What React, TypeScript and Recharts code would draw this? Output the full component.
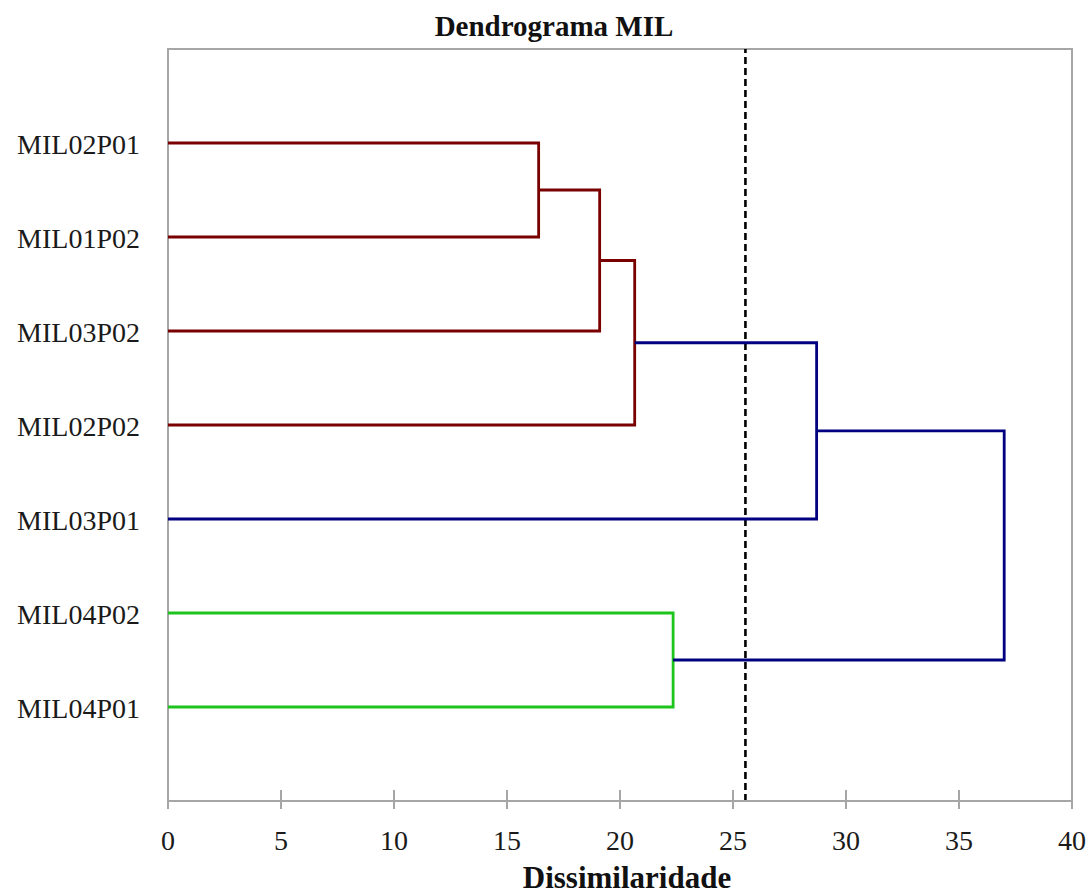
import React from 'react';
import { ComposedChart, XAxis, YAxis, Scatter, ReferenceLine, ReferenceArea } from 'recharts';

const leaves = ['MIL02P01', 'MIL01P02', 'MIL03P02', 'MIL02P02', 'MIL03P01', 'MIL04P02', 'MIL04P01'];
const mergeA = ['L0', 'M0', 'M1', 'M2', 'L5', 'M3'];
const mergeB = ['L1', 'L2', 'L3', 'L4', 'L6', 'M4'];
const mergeHeights = [16.4, 19.1, 20.65, 28.7, 22.35, 37.0];
const mergeColors = ['#7a0000', '#7a0000', '#7a0000', '#000080', '#1cc41c', '#000080'];
const cutHeight = 25.55;
const xTicks = [0, 5, 10, 15, 20, 25, 30, 35, 40];
const yTicks = [1, 2, 3, 4, 5, 6, 7];

const FONT = '"Liberation Serif", "DejaVu Serif", serif';
const GRAY = '#a6a6a6';

function nodePos(id: string): { x: number; y: number } {
  const k = parseInt(id.slice(1), 10);
  if (id[0] === 'L') return { x: 0, y: k + 1 };
  const a = nodePos(mergeA[k]);
  const b = nodePos(mergeB[k]);
  return { x: mergeHeights[k], y: (a.y + b.y) / 2 };
}

const segments = mergeHeights.map((h, j) => {
  const a = nodePos(mergeA[j]);
  const b = nodePos(mergeB[j]);
  return {
    color: mergeColors[j],
    points: [
      { x: a.x, y: a.y },
      { x: h, y: a.y },
      { x: h, y: b.y },
      { x: b.x, y: b.y },
    ],
  };
});
const order = (c: string) => (c === '#000080' ? 2 : 1);
const sortedSegments = [...segments].sort((p, q) => order(p.color) - order(q.color));

const XTick = (props: any) => {
  const { x, y, payload } = props;
  return (
    <g>
      <line x1={x} x2={x} y1={y - 11} y2={y + 8} stroke={GRAY} strokeWidth={2} />
      <text x={x} y={y + 49} textAnchor="middle" fontFamily={FONT} fontSize={28} fill="#1a1a1a">
        {payload.value}
      </text>
    </g>
  );
};

const YTick = (props: any) => {
  const { x, y, payload } = props;
  return (
    <text x={x - 28} y={y + 11} textAnchor="end" fontFamily={FONT} fontSize={28} fill="#1a1a1a">
      {leaves[payload.value - 1]}
    </text>
  );
};

const NoShape = () => <g />;

export default function App() {
  return (
    <div style={{ position: 'absolute', left: 0, top: 0, width: 1090, height: 894, background: '#fff' }}>
      <ComposedChart width={1090} height={894} margin={{ top: 49, right: 18, bottom: 0, left: 0 }}>
        <ReferenceArea x1={0} x2={40} y1={0} y2={8} fill="none" stroke={GRAY} strokeWidth={2} ifOverflow="extendDomain" />
        <XAxis
          type="number"
          dataKey="x"
          domain={[0, 40]}
          ticks={xTicks}
          interval={0}
          height={93}
          tickSize={0}
          tickMargin={0}
          tickLine={false}
          axisLine={{ stroke: GRAY, strokeWidth: 2 }}
          tick={<XTick />}
          allowDataOverflow
        />
        <YAxis
          type="number"
          dataKey="y"
          domain={[0, 8]}
          reversed
          ticks={yTicks}
          interval={0}
          width={168}
          tickSize={0}
          tickMargin={0}
          tickLine={false}
          axisLine={{ stroke: GRAY, strokeWidth: 2 }}
          tick={<YTick />}
          allowDataOverflow
        />
        {sortedSegments.map((s, i) => (
          <Scatter
            key={i}
            data={s.points}
            line={{ stroke: s.color, strokeWidth: 2.8 }}
            lineType="joint"
            shape={NoShape}
            fill={s.color}
            isAnimationActive={false}
          />
        ))}
        <ReferenceLine x={cutHeight} stroke="#000" strokeWidth={2.6} strokeDasharray="7 4" />
        <text x={554} y={36} textAnchor="middle" fontFamily={FONT} fontWeight="bold" fontSize={29} fill="#111">
          Dendrograma MIL
        </text>
        <text x={627} y={888} textAnchor="middle" fontFamily={FONT} fontWeight="bold" fontSize={31} fill="#111">
          Dissimilaridade
        </text>
      </ComposedChart>
    </div>
  );
}
